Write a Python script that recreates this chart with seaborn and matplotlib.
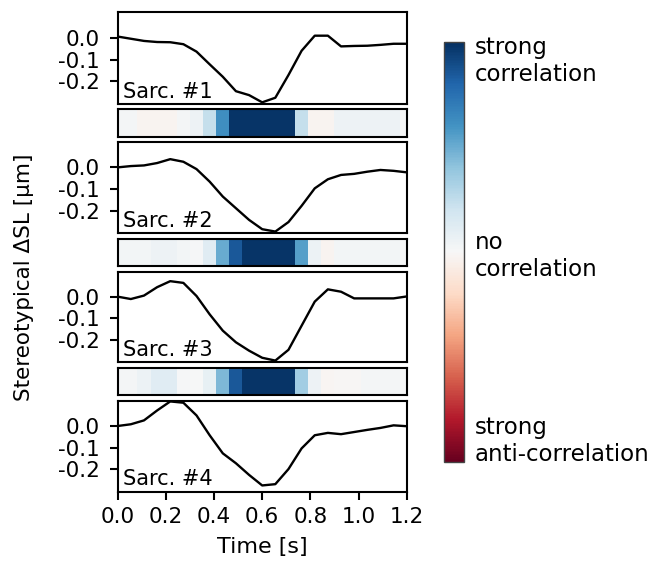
import numpy as np
import matplotlib
matplotlib.use("Agg")
import matplotlib.pyplot as plt
import seaborn as sns

# ---------------- data ----------------
time_s = [0.0, 0.0545, 0.1091, 0.1636, 0.2182, 0.2727, 0.3273, 0.3818, 0.4364,
          0.4909, 0.5455, 0.6, 0.6545, 0.7091, 0.7636, 0.8182, 0.8727, 0.9273,
          0.9818, 1.0364, 1.0909, 1.1455, 1.2]

sarc1 = [0.005, -0.005, -0.015, -0.02, -0.021, -0.03, -0.064, -0.122, -0.179,
         -0.245, -0.263, -0.296, -0.275, -0.171, -0.06, 0.009, 0.009, -0.04,
         -0.038, -0.037, -0.033, -0.028, -0.028]
sarc2 = [0.0, 0.006, 0.009, 0.02, 0.038, 0.026, -0.008, -0.066, -0.135,
         -0.189, -0.243, -0.286, -0.297, -0.253, -0.178, -0.097, -0.055, -0.035,
         -0.03, -0.02, -0.012, -0.016, -0.023]
sarc3 = [0.0, -0.011, 0.005, 0.044, 0.072, 0.064, 0.003, -0.082, -0.158,
         -0.212, -0.251, -0.284, -0.297, -0.247, -0.135, -0.023, 0.034, 0.023,
         -0.008, -0.008, -0.008, -0.008, 0.001]
sarc4 = [0.0, 0.008, 0.026, 0.072, 0.114, 0.108, 0.049, -0.043, -0.127,
         -0.173, -0.227, -0.276, -0.270, -0.2, -0.104, -0.043, -0.032, -0.038,
         -0.028, -0.018, -0.009, 0.003, -0.001]

corr12 = [0.02, 0.02, -0.03, -0.03, -0.03, 0.02, 0.05, 0.24, 0.62, 0.98, 0.98,
          0.98, 0.98, 0.98, 0.24, -0.03, -0.03, 0.05, 0.05, 0.05, 0.05, 0.05, 0.0]
corr23 = [0.03, 0.03, 0.03, 0.05, 0.05, 0.03, 0.01, 0.12, 0.50, 0.85, 0.98,
          0.98, 0.98, 0.98, 0.55, 0.06, -0.03, 0.03, 0.03, 0.03, 0.03, 0.03, 0.0]
corr34 = [0.02, 0.02, 0.06, 0.12, 0.12, 0.01, 0.0, 0.08, 0.45, 0.85, 0.98,
          0.98, 0.98, 0.98, 0.35, 0.05, -0.02, -0.01, -0.01, 0.02, 0.02, 0.02, 0.0]

panel_labels = ["Sarc. #1", "Sarc. #2", "Sarc. #3", "Sarc. #4"]
x_ticks = [0.0, 0.2, 0.4, 0.6, 0.8, 1.0, 1.2]
y_ticks = [0.0, -0.1, -0.2]
cbar_ticks = [0.93, 0.0, -0.88]
cbar_labels = ["strong\ncorrelation", "no\ncorrelation", "strong\nanti-correlation"]
x_label = "Time [s]"
y_label = "Stereotypical ΔSL [µm]"

# ---------------- figure ----------------
sns.set_style("ticks")
plt.rcParams['font.family'] = ['DejaVu Sans']
plt.rcParams['text.color'] = 'black'
plt.rcParams['axes.labelcolor'] = 'black'
plt.rcParams['xtick.color'] = 'black'
plt.rcParams['ytick.color'] = 'black'

W, H = 656, 567
fig = plt.figure(figsize=(W / 100, H / 100), dpi=100)


def ax_px(l, t, r, b):
    return fig.add_axes([l / W, 1 - b / H, (r - l) / W, (b - t) / H])


L, R = 117.7, 406.7
panel_tb = [(12.3, 104.3), (142.3, 233.3), (271.7, 362.3), (401, 491.7)]
strip_tb = [(109, 136.7), (239, 266), (368.3, 395)]

series = [sarc1, sarc2, sarc3, sarc4]
corrs = [corr12, corr23, corr34]

cax = ax_px(444, 41.7, 464, 462)

for i, (t, b) in enumerate(panel_tb):
    ax = ax_px(L, t, R, b)
    sns.lineplot(x=time_s, y=series[i], ax=ax, color='black', lw=1.7)
    ax.set_xlim(0, 1.2)
    ax.set_ylim(-0.305, 0.116)
    ax.set_yticks(y_ticks)
    ax.set_yticklabels([f"{v:.1f}" for v in y_ticks])
    for sp in ax.spines.values():
        sp.set_visible(True)
        sp.set_linewidth(1.5)
        sp.set_color('black')
    ax.tick_params(axis='y', direction='out', length=5.5, width=1.5, labelsize=15.5, pad=7.5)
    if i == 3:
        ax.set_xticks(x_ticks)
        ax.set_xticklabels([f"{v:.1f}" for v in x_ticks])
        ax.tick_params(axis='x', direction='out', length=5.5, width=1.5, labelsize=15.5, pad=5.5)
        ax.set_xlabel(x_label, fontsize=16, labelpad=7)
    else:
        ax.set_xticks([])
    ax.text(0.018, 0.03, panel_labels[i], transform=ax.transAxes, fontsize=15,
            ha='left', va='bottom')

for i, (t, b) in enumerate(strip_tb):
    sax = ax_px(L, t, R, b)
    sns.heatmap(np.array([corrs[i]]), ax=sax, cmap='RdBu', vmin=-1, vmax=1,
                cbar=(i == 0), cbar_ax=cax if i == 0 else None,
                xticklabels=False, yticklabels=False)
    sax.set_xlim(0.5, len(corrs[i]) - 0.5)
    for sp in sax.spines.values():
        sp.set_visible(True)
        sp.set_linewidth(1.5)
        sp.set_color('black')
    sax.tick_params(length=0)
    if i == 0:
        cbar = sax.collections[0].colorbar
        cbar.set_ticks(cbar_ticks)
        cbar.set_ticklabels(cbar_labels)
        cax.tick_params(length=0, labelsize=16.5, pad=8)
        cbar.outline.set_edgecolor('#444444')
        cbar.outline.set_linewidth(1.0)

fig.text(24 / W, 1 - 277 / H, y_label, rotation=90, ha='center', va='center', fontsize=15.5)

fig.savefig("out.png", dpi=100)
